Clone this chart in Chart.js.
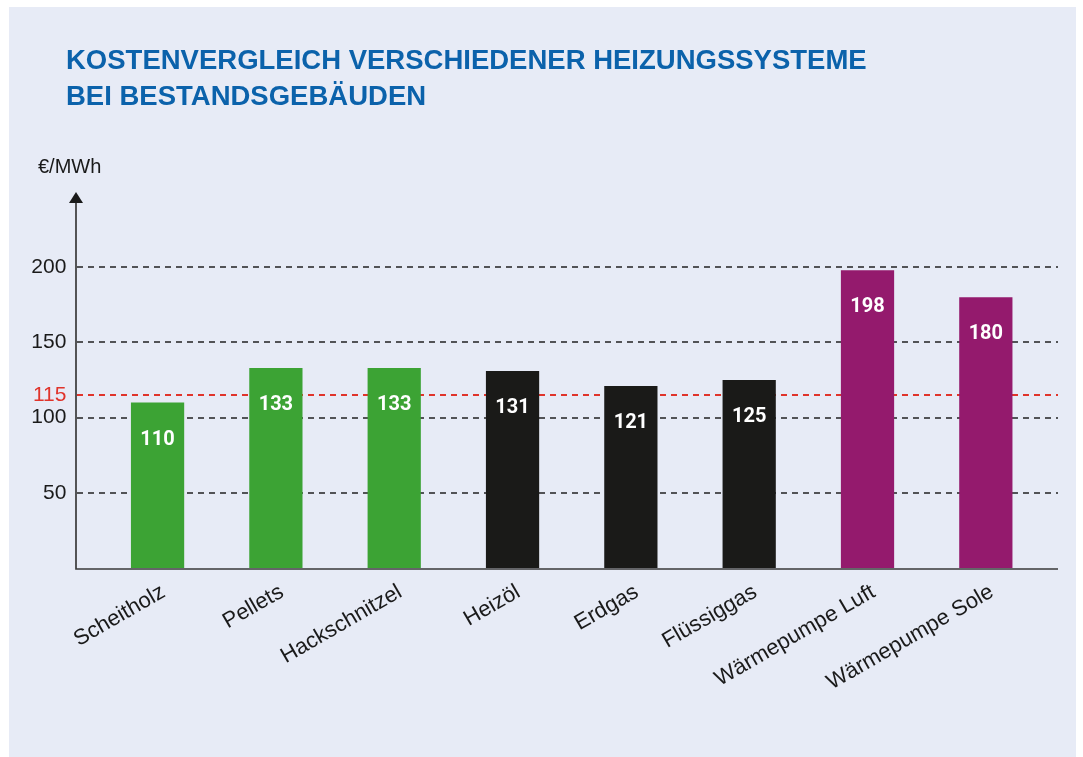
<!DOCTYPE html>
<html>
<head>
<meta charset="utf-8">
<script src="https://cdn.jsdelivr.net/npm/chart.js@4"></script>
<style>
  html, body { margin: 0; padding: 0; background: #ffffff; }
  #panel { position: absolute; left: 9px; top: 7px; width: 1067px; height: 750px; background: #e7ebf6; }
  canvas { display: block; }
</style>
</head>
<body>
<div id="panel"><canvas id="costChart" width="1067" height="750"></canvas></div>
<script>
const categories = ["Scheitholz", "Pellets", "Hackschnitzel", "Heizöl", "Erdgas", "Flüssiggas", "Wärmepumpe Luft", "Wärmepumpe Sole"];
const costs = [110, 133, 133, 131, 121, 125, 198, 180];
const barColors = ["#3ca334", "#3ca334", "#3ca334", "#1a1a18", "#1a1a18", "#1a1a18", "#941a6d", "#941a6d"];
const yTicks = [50, 100, 115, 150, 200];
const refValue = 115;
const titleLines = ["KOSTENVERGLEICH VERSCHIEDENER HEIZUNGSSYSTEME", "BEI BESTANDSGEBÄUDEN"];
const unitLabel = "€/MWh";

const axisLeft = 67, axisRight = 1049;

const overlay = {
    id: 'overlay',
    beforeDatasetsDraw(chart) {
        const ctx = chart.ctx;
        const y = chart.scales.y;
        ctx.save();
        ctx.setLineDash([6, 5]);
        yTicks.forEach(v => {
            const py = Math.round(y.getPixelForValue(v));
            const isRef = v === refValue;
            ctx.strokeStyle = isRef ? '#e0342b' : '#222222';
            ctx.lineWidth = isRef ? 1.8 : 1.5;
            ctx.beginPath();
            ctx.moveTo(axisLeft + 1, py);
            ctx.lineTo(axisRight, py);
            ctx.stroke();
        });
        ctx.restore();
    },
    afterDatasetsDraw(chart) {
        const ctx = chart.ctx;
        const y = chart.scales.y;
        const base = y.getPixelForValue(0);
        ctx.save();
        // title
        ctx.fillStyle = '#0b62ab';
        ctx.font = 'bold 27.5px "Liberation Sans", Arial, sans-serif';
        ctx.textAlign = 'left';
        ctx.textBaseline = 'alphabetic';
        ctx.fillText(titleLines[0], 57, 62);
        ctx.fillText(titleLines[1], 57, 98);
        // axes
        ctx.strokeStyle = '#3a3a3a';
        ctx.lineWidth = 1.7;
        ctx.beginPath();
        ctx.moveTo(axisLeft, 196);
        ctx.lineTo(axisLeft, base + 1);
        ctx.lineTo(axisRight, base + 1);
        ctx.stroke();
        ctx.fillStyle = '#1a1a1a';
        ctx.beginPath();
        ctx.moveTo(axisLeft, 185);
        ctx.lineTo(axisLeft - 7, 196);
        ctx.lineTo(axisLeft + 7, 196);
        ctx.closePath();
        ctx.fill();
        // unit label
        ctx.font = '20px "Liberation Sans", Arial, sans-serif';
        ctx.fillText(unitLabel, 29, 166);
        // value labels
        ctx.fillStyle = '#ffffff';
        ctx.font = 'bold 20px Roboto, sans-serif';
        ctx.textAlign = 'center';
        ctx.textBaseline = 'middle';
        chart.getDatasetMeta(0).data.forEach((bar, i) => {
            ctx.fillText(String(costs[i]), bar.x, bar.y + 37);
        });
        ctx.restore();
    }
};

const chart = new Chart(document.getElementById('costChart').getContext('2d'), {
    type: 'bar',
    data: {
        labels: categories,
        datasets: [{
            data: costs,
            backgroundColor: barColors,
            categoryPercentage: 1,
            barPercentage: 0.45
        }]
    },
    options: {
        responsive: false,
        animation: false,
        layout: { padding: { left: 0, right: 31, top: 185, bottom: 0 } },
        plugins: {
            legend: { display: false },
            tooltip: { enabled: false },
            title: { display: false }
        },
        scales: {
            x: {
                grid: { display: false },
                border: { display: false },
                ticks: {
                    color: '#1a1a1a',
                    font: { family: '"Liberation Sans", Arial, sans-serif', size: 22 },
                    maxRotation: 30,
                    minRotation: 30,
                    padding: 3,
                    labelOffset: 6
                },
                afterFit(scale) { scale.height = 189; }
            },
            y: {
                min: 0,
                max: 250,
                grid: { display: false },
                border: { display: false },
                afterBuildTicks(scale) { scale.ticks = yTicks.map(v => ({ value: v })); },
                ticks: {
                    color: (c) => c.tick && c.tick.value === refValue ? '#e0342b' : '#1a1a1a',
                    font: { family: '"Liberation Sans", Arial, sans-serif', size: 21 },
                    padding: 24
                },
                afterFit(scale) { scale.width = 89.4; }
            }
        }
    },
    plugins: [overlay]
});
</script>
</body>
</html>
